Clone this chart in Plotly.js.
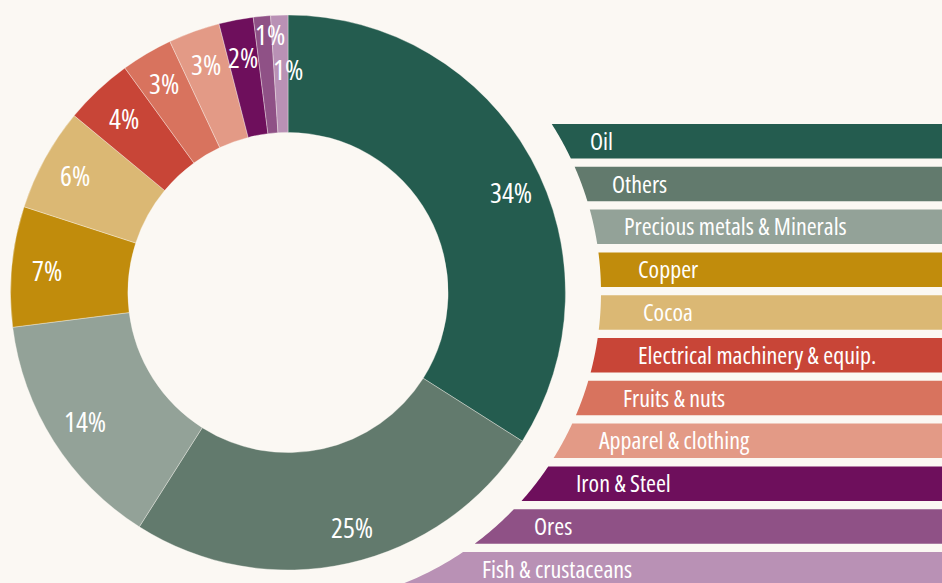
<!DOCTYPE html>
<html>
<head>
<meta charset="utf-8">
<script src="https://cdn.plot.ly/plotly-3.0.1.min.js"></script>
<style>
  html, body { margin: 0; padding: 0; background: #fbf8f3; }
  #chart { width: 942px; height: 583px; }
  text, tspan { font-stretch: condensed; }
</style>
</head>
<body>
<div id="chart"></div>
<script>
// ---- data ----
const categories = ["Oil", "Others", "Precious metals & Minerals", "Copper", "Cocoa",
  "Electrical machinery & equip.", "Fruits & nuts", "Apparel & clothing",
  "Iron & Steel", "Ores", "Fish & crustaceans"];
const shares = [34, 25, 14, 7, 6, 4, 3, 3, 2, 1, 1];
const percentLabels = ["34%", "25%", "14%", "7%", "6%", "4%", "3%", "3%", "2%", "1%", "1%"];
const colors = ["#245c4f", "#627a6d", "#93a298", "#c18c0c", "#dbb874", "#c84537",
  "#d8735e", "#e39a86", "#6e0f5c", "#8f5186", "#b991b5"];

// ---- layout constants (pixels) ----
const W = 942, H = 583;
const BG = "#fbf8f3";
const FONT = "Open Sans, sans-serif";
const cx = 288, cy = 292.5, rOuter = 277.5, holeFrac = 0.577;
const labelR = [243, 243, 240, 242, 243, 240, 243, 243, 240, 260, 224];
const labelNudge = [[10, 17], [11, -3], [0, 0], [0, 0], [0, 0], [0, 0], [0, 0], [0, 0], [0, 0], [6, 0], [7, 0]];
const legendTop = 124, legendStep = 42.8, legendBarH = 34.5;
const edgeR = 313;
const textIndent = [27, 29, 28, 36, 41, 41, 38, 33, 37, 35, 44];

const px2x = p => p / W;
const px2y = p => 1 - p / H;

// pie
const trace = {
  type: "pie",
  values: shares,
  labels: categories,
  marker: { colors: colors, line: { color: "rgba(251,248,243,0.6)", width: 0.6 } },
  hole: holeFrac,
  sort: false,
  direction: "clockwise",
  rotation: 0,
  textinfo: "none",
  hoverinfo: "label+percent",
  domain: {
    x: [px2x(cx - rOuter), px2x(cx + rOuter)],
    y: [px2y(cy + rOuter), px2y(cy - rOuter)]
  }
};

const annotations = [];
const shapes = [];

// percent labels derived from cumulative shares
const total = shares.reduce((a, b) => a + b, 0);
let cum = 0;
shares.forEach((v, i) => {
  const mid = (cum + v / 2) / total * 2 * Math.PI;
  cum += v;
  const px = cx + labelR[i] * Math.sin(mid) + labelNudge[i][0];
  const py = cy - labelR[i] * Math.cos(mid) + labelNudge[i][1];
  annotations.push({
    x: px2x(px), y: px2y(py), xref: "paper", yref: "paper",
    text: percentLabels[i], showarrow: false,
    xanchor: "center", yanchor: "middle",
    font: { family: FONT, size: 28, color: "#ffffff" }
  });
});

// legend bars with curved left edge
const edgeX = (y, R) => cx + Math.sqrt(Math.max(R * R - (y - cy) * (y - cy), 0));
categories.forEach((name, i) => {
  const top = legendTop + i * legendStep;
  const bot = top + legendBarH;
  const pts = [];
  const n = 12;
  for (let k = 0; k <= n; k++) {
    const y = top + (bot - top) * k / n;
    pts.push([edgeX(y, edgeR), y]);
  }
  let d = `M ${px2x(W + 5)},${px2y(top)} L ${px2x(W + 5)},${px2y(bot)}`;
  for (let k = n; k >= 0; k--) d += ` L ${px2x(pts[k][0])},${px2y(pts[k][1])}`;
  d += " Z";
  shapes.push({
    type: "path", xref: "paper", yref: "paper", path: d,
    fillcolor: colors[i], line: { width: 0 }, layer: "above"
  });
  const yc = (top + bot) / 2 - 1;
  annotations.push({
    x: px2x(edgeX(yc, edgeR) + textIndent[i]), y: px2y(yc), xref: "paper", yref: "paper",
    text: name, showarrow: false, xanchor: "left", yanchor: "middle",
    font: { family: FONT, size: 24, color: "#ffffff" }
  });
});

const layout = {
  width: W, height: H,
  margin: { l: 0, r: 0, t: 0, b: 0, pad: 0 },
  paper_bgcolor: BG, plot_bgcolor: BG,
  showlegend: false,
  shapes: shapes,
  annotations: annotations
};

Plotly.newPlot("chart", [trace], layout, { displayModeBar: false, staticPlot: true });
</script>
</body>
</html>
